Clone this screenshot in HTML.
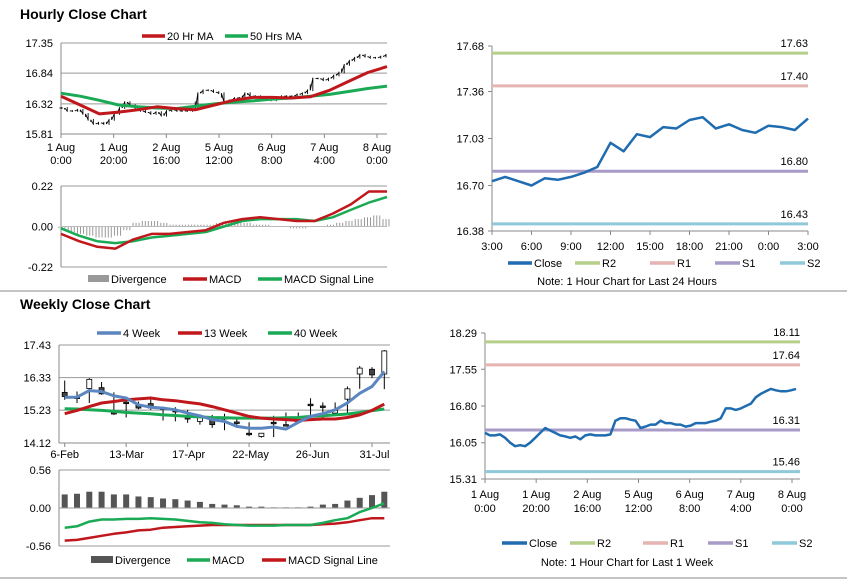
<!DOCTYPE html>
<html><head><meta charset="utf-8"><style>
body{margin:0;background:#fff;width:847px;height:583px;overflow:hidden;font-family:"Liberation Sans",sans-serif}
svg{display:block}
text{font-family:"Liberation Sans",sans-serif;font-size:11px;fill:#000}
.t{font-size:14px;font-weight:bold}
</style></head><body>
<svg id="s" width="847" height="583">
<text class="t" x="20" y="19">Hourly Close Chart</text>
<text class="t" x="20" y="309">Weekly Close Chart</text>
<line x1="0" y1="291" x2="847" y2="291" stroke="#888"/>
<line x1="0" y1="578" x2="847" y2="578" stroke="#888"/>
</svg>
<script>
// ---- data ----
const hourlyClose=[16.25,16.2,16.2,16.22,16.15,16.05,15.98,16.0,15.98,16.05,16.15,16.25,16.35,16.3,16.25,16.2,16.18,16.15,16.18,16.12,16.2,16.22,16.2,16.2,16.2,16.22,16.5,16.55,16.55,16.52,16.5,16.35,16.38,16.42,16.42,16.5,16.45,16.45,16.42,16.42,16.38,16.4,16.45,16.45,16.45,16.48,16.5,16.55,16.75,16.75,16.72,16.75,16.8,16.85,16.98,17.05,17.1,17.15,17.12,17.1,17.1,17.12,17.15];
const ma20=[16.45,16.3,16.15,16.18,16.22,16.27,16.24,16.22,16.3,16.38,16.43,16.43,16.42,16.44,16.55,16.7,16.85,16.95];
const ma50=[16.5,16.45,16.38,16.3,16.27,16.25,16.24,16.28,16.32,16.35,16.37,16.4,16.42,16.45,16.48,16.53,16.58,16.62];
const hMacd=[-0.04,-0.08,-0.11,-0.12,-0.07,-0.04,-0.04,-0.03,-0.02,0.02,0.04,0.05,0.04,0.03,0.03,0.07,0.12,0.19,0.19];
const hSignal=[-0.01,-0.05,-0.08,-0.09,-0.08,-0.06,-0.05,-0.04,-0.03,0.0,0.03,0.04,0.04,0.04,0.03,0.05,0.09,0.13,0.16];
const hDiv=[-0.01,-0.03,-0.04,-0.05,-0.06,-0.06,-0.05,-0.02,0.02,0.03,0.03,0.02,0.01,0.01,0.01,0.01,0.01,0.02,0.03,0.03,0.02,0.01,0.01,0.00,0.00,-0.01,-0.01,0.00,0.00,0.01,0.02,0.03,0.04,0.05,0.06,0.04];
const hourTicks=[["1 Aug","0:00"],["1 Aug","20:00"],["2 Aug","16:00"],["5 Aug","12:00"],["6 Aug","8:00"],["7 Aug","4:00"],["8 Aug","0:00"]];
const day24=[16.73,16.76,16.73,16.70,16.75,16.74,16.76,16.79,16.83,17.00,16.94,17.06,17.04,17.11,17.10,17.16,17.18,17.10,17.13,17.09,17.07,17.12,17.11,17.09,17.17];
const day24Ticks=["3:00","6:00","9:00","12:00","15:00","18:00","21:00","0:00","3:00"];
const dayLevels=[17.63,17.40,16.80,16.43];
const weekLevels=[18.11,17.64,16.31,15.46];
const wOpen=[15.83,15.67,15.96,15.99,15.16,15.50,15.41,15.45,15.30,15.22,14.98,14.85,14.91,14.98,14.83,14.45,14.34,14.82,14.74,14.88,15.43,15.37,15.13,15.60,16.45,16.61,16.45];
const wClose=[15.69,15.67,16.27,15.78,15.10,15.45,15.30,15.30,15.28,15.20,14.96,15.02,14.74,14.97,14.82,14.44,14.45,14.81,14.73,14.87,15.41,15.35,15.22,15.95,16.65,16.42,17.23];
const wHigh=[16.23,15.86,16.31,16.18,15.83,15.58,15.52,15.67,15.35,15.33,15.24,15.07,15.07,15.11,14.96,14.82,14.46,15.04,15.15,15.15,15.63,15.49,15.49,16.03,16.72,16.68,17.26];
const wLow=[15.58,15.47,15.47,15.75,15.07,14.98,15.26,15.24,14.88,14.85,14.80,14.74,14.63,14.55,14.63,14.35,14.30,14.32,14.68,14.80,15.07,14.96,15.11,15.11,15.95,16.31,15.94];
const w4=[15.66,15.67,15.89,15.86,15.71,15.64,15.41,15.33,15.30,15.24,15.13,15.04,14.91,14.85,14.68,14.62,14.62,14.66,14.59,14.82,15.02,15.11,15.24,15.47,15.80,16.03,16.53];
const w13=[15.11,15.22,15.35,15.47,15.52,15.58,15.61,15.64,15.58,15.55,15.49,15.44,15.35,15.24,15.13,15.02,14.96,14.93,14.91,14.88,14.91,14.93,14.93,14.98,15.07,15.22,15.43];
const w40=[15.28,15.27,15.24,15.22,15.19,15.15,15.13,15.11,15.07,15.05,15.02,15.00,14.98,14.97,14.96,14.96,14.96,14.96,14.97,14.98,15.02,15.04,15.07,15.10,15.15,15.21,15.27];
const wDiv=[0.20,0.21,0.24,0.24,0.20,0.20,0.17,0.16,0.14,0.13,0.11,0.09,0.06,0.05,0.04,0.02,0.02,0.01,0.01,0.01,0.02,0.05,0.06,0.11,0.15,0.19,0.24];
const wMacd=[-0.29,-0.27,-0.20,-0.17,-0.17,-0.16,-0.16,-0.15,-0.16,-0.17,-0.19,-0.21,-0.22,-0.24,-0.25,-0.26,-0.26,-0.26,-0.25,-0.25,-0.25,-0.22,-0.18,-0.15,-0.06,0.00,0.07];
const wSignal=[-0.48,-0.47,-0.44,-0.41,-0.38,-0.36,-0.33,-0.32,-0.29,-0.28,-0.27,-0.26,-0.25,-0.25,-0.25,-0.25,-0.25,-0.25,-0.25,-0.25,-0.25,-0.24,-0.23,-0.21,-0.18,-0.15,-0.15];
const weekTicks=["6-Feb","13-Mar","17-Apr","22-May","26-Jun","31-Jul"];
// ---- helpers ----
const S=document.getElementById('s'),NS='http://www.w3.org/2000/svg';
function el(t,a,txt){const e=document.createElementNS(NS,t);for(const k in a)e.setAttribute(k,a[k]);if(txt!==undefined)e.textContent=txt;S.appendChild(e);return e;}
function lin(d0,d1,r0,r1){return v=>r0+(v-d0)/(d1-d0)*(r1-r0);}
function poly(arr,xs,ys,col,w,name){const p=arr.map((v,i)=>xs(i).toFixed(1)+','+ys(v).toFixed(1)).join(' ');const e=el('polyline',{points:p,fill:'none',stroke:col,'stroke-width':w,'stroke-linejoin':'round'});

return e;}
function txt(x,y,s,anchor,name){const e=el('text',{x:x,y:y,'text-anchor':anchor||'start'},s);

return e;}
function ln(x1,y1,x2,y2,c,w,name){const e=el('line',{x1,y1,x2,y2,stroke:c,'stroke-width':w});

return e;}
function legend(items,y){items.forEach(it=>{if(it[3]==='bar'){const r=el('rect',{x:it[0],y:y-4,width:it[1]-it[0],height:7,fill:it[2]});

}else ln(it[0],y,it[1],y,it[2],3.5,'legend-swatch');txt(it[1]+2,y+4,it[4],'start','legend-entry');});}
const RED='#c0171c',GRN='#1aaa55',BLUE='#5b86c0';
// ---- hourly price ----
(function(){const x0=61,x1=387,ys=lin(15.81,17.35,134,43);
[17.35,16.84,16.32].forEach(v=>ln(x0,ys(v),x1,ys(v),'#999',1,'gridline'));
ln(x0,43,x0,134,'#888',1,'y-axis');ln(x0,134,x1,134,'#888',1,'x-axis');
[17.35,16.84,16.32,15.81].forEach(v=>txt(53,ys(v)+4,v.toFixed(2),'end','y-tick-label'));
const tx=lin(0,6,61,377);hourTicks.forEach((t,i)=>{ln(tx(i),134,tx(i),138,'#888',1,'x-tick');txt(tx(i),151,t[0],'middle','x-tick-label');txt(tx(i),164,t[1],'middle','x-tick-label');});
const xs=lin(0,hourlyClose.length-1,62,386);
hourlyClose.forEach((v,i)=>{const p=i?hourlyClose[i-1]:v;const m=(v+p)/2;
ln(xs(i)-2.6,ys(p),xs(i)-2.6,ys(m),'#000',0.9,'candle');
ln(xs(i),ys(Math.max(v,p)+0.015),xs(i),ys(Math.min(v,p)-0.015),'#000',0.9,'candle');
ln(xs(i)-2.6,ys(p),xs(i),ys(v),'#000',0.9,'candle-body');});
poly(ma50,lin(0,ma50.length-1,61,387),ys,GRN,3,'ma-50-line');
poly(ma20,lin(0,ma20.length-1,61,387),ys,RED,3,'ma-20-line');
legend([[142,165,RED,'l','20 Hr MA'],[225,248,GRN,'l','50 Hrs MA']],36);
})();
// ---- hourly macd ----
(function(){const x0=61,x1=387,ys=lin(-0.22,0.22,267,186);
ln(x0,186,x1,186,'#999',1,'gridline');ln(x0,267,x1,267,'#999',1,'gridline');ln(x0,186,x0,267,'#888',1,'y-axis');
[0.22,0,-0.22].forEach(v=>txt(53,ys(v)+4,v.toFixed(2),'end','y-tick-label'));
const xd=lin(0,hDiv.length-1,62,386);hDiv.forEach((v,i)=>{for(let k=0;k<3;k++)ln(xd(i)+k*3-3,ys(0),xd(i)+k*3-3,ys(v),'#999',1,'divergence-bar');});
ln(x0,ys(0),x1,ys(0),'#bbb',1,'zero-line');
poly(hSignal,lin(0,hSignal.length-1,61,387),ys,GRN,2.5,'macd-signal-line');
poly(hMacd,lin(0,hMacd.length-1,61,387),ys,RED,2.5,'macd-line');
legend([[88,109,'#999','bar','Divergence'],[183,207,RED,'l','MACD'],[258,282,GRN,'l','MACD Signal Line']],279);
})();
// ---- 24h chart ----
(function(){const x0=492,x1=808,ys=lin(16.38,17.68,231,46);
ln(x0,46,x0,231,'#888',1,'y-axis');ln(x0,231,x1,231,'#888',1,'x-axis');
[17.68,17.36,17.03,16.70,16.38].forEach(v=>{ln(x0-4,ys(v),x0,ys(v),'#888',1,'y-tick');txt(484,ys(v)+4,v.toFixed(2),'end','y-tick-label');});
const tx=lin(0,8,x0,x1);day24Ticks.forEach((t,i)=>{ln(tx(i),231,tx(i),235,'#888',1,'x-tick');txt(tx(i),250,t,'middle','x-tick-label');});
const cols=['#b5cf8a','#e6b4b2','#a99bc8','#8fc8d8'];
dayLevels.forEach((v,i)=>{ln(x0,ys(v),x1,ys(v),cols[i],3,'level-line');txt(x1,ys(v)-6,v.toFixed(2),'end','level-label');});
poly(day24,lin(0,24,x0,x1),ys,'#1f6cb0',2.5,'close-line');
legend([[508,532,'#1f6cb0','l','Close'],[575,600,cols[0],'l','R2'],[650,675,cols[1],'l','R1'],[715,740,cols[2],'l','S1'],[780,805,cols[3],'l','S2']],263);
const n=txt(627,285,'Note: 1 Hour Chart for Last 24 Hours','middle','chart-note');n.setAttribute('font-size','9');
})();
// ---- week chart (right) ----
(function(){const x0=485,x1=800,ys=lin(15.31,18.29,479,333);
ln(x0,333,x0,479,'#888',1,'y-axis');ln(x0,479,x1,479,'#888',1,'x-axis');
[18.29,17.55,16.80,16.05,15.31].forEach(v=>{ln(x0-4,ys(v),x0,ys(v),'#888',1,'y-tick');txt(477,ys(v)+4,v.toFixed(2),'end','y-tick-label');});
const tx=lin(0,6,485,792);hourTicks.forEach((t,i)=>{ln(tx(i),479,tx(i),483,'#888',1,'x-tick');txt(tx(i),498,t[0],'middle','x-tick-label');txt(tx(i),512,t[1],'middle','x-tick-label');});
const cols=['#b5cf8a','#e6b4b2','#a99bc8','#8fc8d8'];
weekLevels.forEach((v,i)=>{ln(x0,ys(v),x1,ys(v),cols[i],3,'level-line');txt(x1,ys(v)-6,v.toFixed(2),'end','level-label');});
poly(hourlyClose,lin(0,hourlyClose.length-1,x0,796),ys,'#1f6cb0',2.5,'close-line');
legend([[502,527,'#1f6cb0','l','Close'],[570,595,cols[0],'l','R2'],[643,668,cols[1],'l','R1'],[708,733,cols[2],'l','S1'],[772,797,cols[3],'l','S2']],543);
const n=txt(627,566,'Note: 1 Hour Chart for Last 1 Week','middle','chart-note');n.setAttribute('font-size','9');
})();
// ---- weekly price ----
(function(){const x0=59,x1=390,ys=lin(14.12,17.43,443,345);
[17.43,16.33,15.23].forEach(v=>ln(x0,ys(v),x1,ys(v),'#999',1,'gridline'));
ln(x0,345,x0,443,'#888',1,'y-axis');ln(x0,443,x1,443,'#888',1,'x-axis');
[17.43,16.33,15.23,14.12].forEach(v=>txt(51,ys(v)+4,v.toFixed(2),'end','y-tick-label'));
const xs=lin(0,wOpen.length-1,64.7,384.3);
weekTicks.forEach((t,i)=>{ln(xs(i*5),443,xs(i*5),447,'#888',1,'x-tick');txt(xs(i*5)+i*0.5,458,t,'middle','x-tick-label');});
wOpen.forEach((o,i)=>{const c=wClose[i];ln(xs(i),ys(wHigh[i]),xs(i),ys(wLow[i]),'#000',1,'candle-wick');
const top=ys(Math.max(o,c)),h=Math.max(ys(Math.min(o,c))-top,1.5);const r=el('rect',{x:xs(i)-2.5,y:top,width:5,height:h,fill:c>o?'#fff':'#444',stroke:'#000','stroke-width':0.8});

});
poly(w40,xs,ys,GRN,3,'ma-40-week');poly(w13,xs,ys,RED,3,'ma-13-week');poly(w4,xs,ys,BLUE,3,'ma-4-week');
legend([[97,121,BLUE,'l','4 Week'],[178,202,RED,'l','13 Week'],[268,292,GRN,'l','40 Week']],333);
})();
// ---- weekly macd ----
(function(){const x0=59,x1=390,ys=lin(-0.56,0.56,546,470);
ln(x0,470,x1,470,'#999',1,'gridline');ln(x0,546,x1,546,'#999',1,'gridline');ln(x0,470,x0,546,'#888',1,'y-axis');
[0.56,0,-0.56].forEach(v=>txt(51,ys(v)+4,v.toFixed(2),'end','y-tick-label'));
const xs=lin(0,wDiv.length-1,64.7,384.3);
wDiv.forEach((v,i)=>{const r=el('rect',{x:xs(i)-3,y:ys(v),width:6,height:ys(0)-ys(v),fill:'#555'});

});
ln(x0,ys(0),x1,ys(0),'#999',1,'zero-line');
poly(wSignal,xs,ys,RED,2.5,'macd-signal-line');poly(wMacd,xs,ys,GRN,2.5,'macd-line');
legend([[91,113,'#555','bar','Divergence'],[187,210,GRN,'l','MACD'],[262,286,RED,'l','MACD Signal Line']],560);
})();
</script>
</body></html>
